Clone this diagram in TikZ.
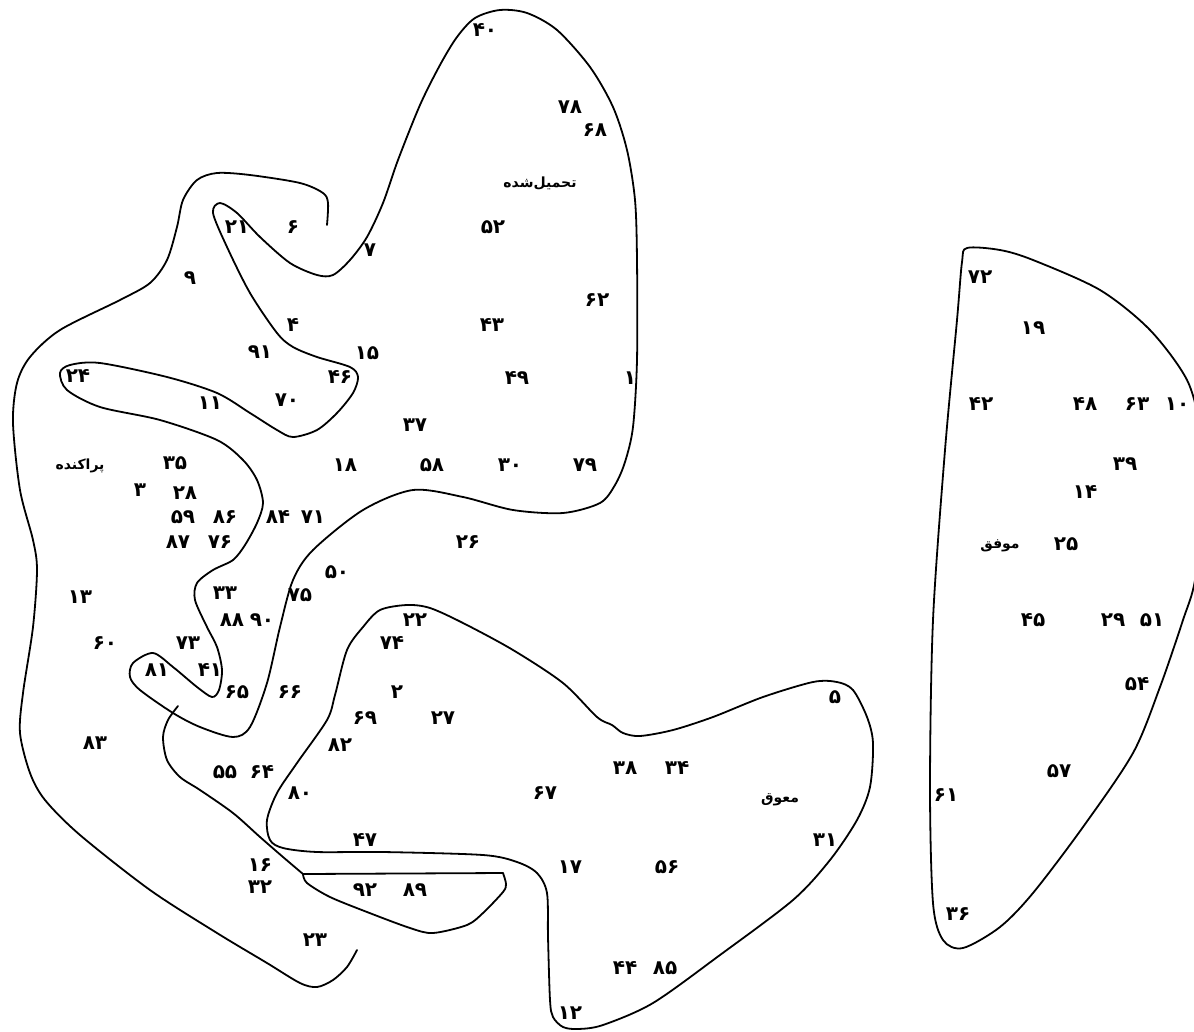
\documentclass[tikz,border=0pt]{standalone}
\usepackage{fontspec}
\newfontfamily\farsi[Script=Arabic, BoldFont={DejaVu Sans Bold}]{DejaVu Sans}
\TeXXeTstate=1

\begin{document}
\begin{tikzpicture}[
    x=1pt, y=-1pt,
    every node/.style={inner sep=0pt},
    num/.style={font=\farsi\bfseries\fontsize{20}{24}\selectfont},
    word/.style={font=\farsi\bfseries\fontsize{14}{17}\selectfont},
    border/.style={line width=1.8pt, line join=round, line cap=round},
]
\useasboundingbox (0,0) rectangle (1194,1031);
\clip (0,0) rectangle (1194,1031);

% imposed
\draw[border] plot[smooth cycle] coordinates {
    (213,213) (220,203) (237,213) (260,237) (290,263) (317,275) (333,275)
    (350,260) (367,237) (383,203) (398,160) (420,105) (440,65) (457,37)
    (475,18) (500,10) (527,13) (557,30) (590,67) (613,107) (627,150)
    (635,200) (637,260) (637,360) (633,427) (625,462) (615,485) (600,503)
    (563,513) (513,510) (463,497) (413,490) (363,510) (313,550) (293,580)
    (280,627) (267,683) (250,727) (233,737) (200,727) (173,713) (140,690)
    (130,677) (133,663) (153,653) (173,667) (197,687) (212,697) (219,690)
    (222,670) (217,647) (207,627) (195,600) (197,583) (213,570) (233,560)
    (245,545) (257,523) (263,503) (257,480) (243,460) (217,440) (160,420)
    (100,407) (67,390) (60,373) (70,365) (100,363) (167,377) (217,393)
    (250,413) (277,430) (293,437) (317,430) (337,413) (353,393) (358,377)
    (350,367) (317,357) (293,347) (277,333) (250,293) (227,247)};

% diffuse
\draw[border] plot[smooth] coordinates {
    (327,225) (328,203) (323,193) (300,183) (250,175) (217,173) (197,180)
    (183,200) (177,227) (167,260) (150,283) (120,300) (60,330) (30,357)
    (17,383) (13,423) (20,490) (33,540) (37,570) (33,627) (23,693)
    (20,733) (30,773) (45,800) (80,835) (150,890) (217,933) (267,963)
    (300,983) (317,987) (333,980) (347,967) (357,950)};

% tail and pocket
\draw[border] plot[smooth] coordinates {
    (178,706) (168,720) (163,737) (167,760) (180,777) (200,790) (233,813)
    (260,837) (283,857) (303,874)};
\draw[border] (303,874) -- (503,873);
\draw[border] plot[smooth] coordinates {
    (503,873) (506,884) (503,892) (483,913) (467,925) (433,933) (410,928)
    (367,912) (330,897) (307,883) (303,874)};

% deferred
\draw[border] plot[smooth cycle] coordinates {
    (380,610) (407,605) (430,608) (463,623) (513,650) (563,683) (597,717)
    (612,725) (623,733) (640,736) (673,730) (713,717) (763,697) (813,682)
    (837,682) (853,690) (867,717) (873,743) (870,787) (857,820) (830,860)
    (793,900) (720,955) (653,1003) (603,1025) (578,1029) (563,1027)
    (553,1017) (550,1000) (548,937) (547,893) (537,873) (517,862)
    (483,855) (383,852) (317,852) (283,848) (270,840) (267,820) (277,793)
    (297,763) (327,720) (335,695) (347,650) (363,627)};

% success
\draw[border] plot[smooth cycle] coordinates {
    (962,262) (967,248) (1000,250) (1033,260) (1100,290) (1150,330)
    (1187,380) (1200,430) (1203,500) (1195,580) (1183,620) (1160,687)
    (1133,753) (1083,827) (1033,893) (1000,927) (963,948) (943,940)
    (933,903) (930,787) (933,620) (945,450) (957,320)};

\node[word] (imposed)  at (540,183)  {\beginR تحمیل‌شده\endR};
\node[word] (diffuse)  at (80,466)   {\beginR پراکنده\endR};
\node[word] (deferred) at (780,800)  {\beginR معوق\endR};
\node[word] (success)  at (1000,546) {\beginR موفق\endR};

\node[num] (n40) at (485,30)  {۴۰};
\node[num] (n78) at (570,107) {۷۸};
\node[num] (n68) at (595,130) {۶۸};
\node[num] (n52) at (493,227) {۵۲};
\node[num] (n7)  at (370,250) {۷};
\node[num] (n6)  at (293,227) {۶};
\node[num] (n21) at (237,227) {۲۱};
\node[num] (n9)  at (190,278) {۹};
\node[num] (n62) at (597,300) {۶۲};
\node[num] (n43) at (492,325) {۴۳};
\node[num] (n4)  at (293,325) {۴};
\node[num] (n91) at (260,352) {۹۱};
\node[num] (n15) at (367,353) {۱۵};
\node[num] (n49) at (517,378) {۴۹};
\node[num] (n1)  at (630,378) {۱};
\node[num] (n24) at (78,376)  {۲۴};
\node[num] (n46) at (340,377) {۴۶};
\node[num] (n11) at (210,403) {۱۱};
\node[num] (n70) at (287,400) {۷۰};
\node[num] (n37) at (415,425) {۳۷};
\node[num] (n35) at (175,463) {۳۵};
\node[num] (n18) at (345,465) {۱۸};
\node[num] (n58) at (432,465) {۵۸};
\node[num] (n30) at (510,465) {۳۰};
\node[num] (n79) at (585,465) {۷۹};
\node[num] (n3)  at (140,490) {۳};
\node[num] (n28) at (185,493) {۲۸};
\node[num] (n59) at (183,517) {۵۹};
\node[num] (n86) at (225,517) {۸۶};
\node[num] (n84) at (278,517) {۸۴};
\node[num] (n71) at (313,517) {۷۱};
\node[num] (n87) at (178,542) {۸۷};
\node[num] (n76) at (220,542) {۷۶};
\node[num] (n26) at (468,542) {۲۶};
\node[num] (n50) at (337,572) {۵۰};
\node[num] (n13) at (80,597)  {۱۳};
\node[num] (n33) at (225,593) {۳۳};
\node[num] (n75) at (300,595) {۷۵};
\node[num] (n88) at (232,620) {۸۸};
\node[num] (n90) at (262,620) {۹۰};
\node[num] (n22) at (415,620) {۲۲};
\node[num] (n60) at (105,643) {۶۰};
\node[num] (n73) at (188,643) {۷۳};
\node[num] (n74) at (392,643) {۷۴};
\node[num] (n81) at (157,670) {۸۱};
\node[num] (n41) at (210,670) {۴۱};
\node[num] (n65) at (237,692) {۶۵};
\node[num] (n66) at (290,692) {۶۶};
\node[num] (n2)  at (397,692) {۲};
\node[num] (n5)  at (835,697) {۵};
\node[num] (n69) at (365,718) {۶۹};
\node[num] (n27) at (443,718) {۲۷};
\node[num] (n82) at (340,745) {۸۲};
\node[num] (n83) at (95,743)  {۸۳};
\node[num] (n55) at (225,772) {۵۵};
\node[num] (n64) at (262,772) {۶۴};
\node[num] (n38) at (625,768) {۳۸};
\node[num] (n34) at (677,768) {۳۴};
\node[num] (n80) at (300,793) {۸۰};
\node[num] (n67) at (545,793) {۶۷};
\node[num] (n47) at (365,840) {۴۷};
\node[num] (n31) at (825,840) {۳۱};
\node[num] (n16) at (260,865) {۱۶};
\node[num] (n17) at (570,867) {۱۷};
\node[num] (n56) at (667,867) {۵۶};
\node[num] (n32) at (260,887) {۳۲};
\node[num] (n92) at (365,890) {۹۲};
\node[num] (n89) at (415,890) {۸۹};
\node[num] (n23) at (315,940) {۲۳};
\node[num] (n44) at (625,968) {۴۴};
\node[num] (n85) at (665,968) {۸۵};
\node[num] (n12) at (570,1013) {۱۲};

\node[num] (n72) at (980,277)  {۷۲};
\node[num] (n19) at (1033,328) {۱۹};
\node[num] (n42) at (981,404)  {۴۲};
\node[num] (n48) at (1085,404) {۴۸};
\node[num] (n63) at (1137,404) {۶۳};
\node[num] (n10) at (1177,404) {۱۰};
\node[num] (n39) at (1125,464) {۳۹};
\node[num] (n14) at (1085,492) {۱۴};
\node[num] (n25) at (1066,544) {۲۵};
\node[num] (n45) at (1033,620) {۴۵};
\node[num] (n29) at (1113,620) {۲۹};
\node[num] (n51) at (1152,620) {۵۱};
\node[num] (n54) at (1137,684) {۵۴};
\node[num] (n57) at (1059,771) {۵۷};
\node[num] (n61) at (946,795)  {۶۱};
\node[num] (n36) at (958,914)  {۳۶};
\end{tikzpicture}
\end{document}
